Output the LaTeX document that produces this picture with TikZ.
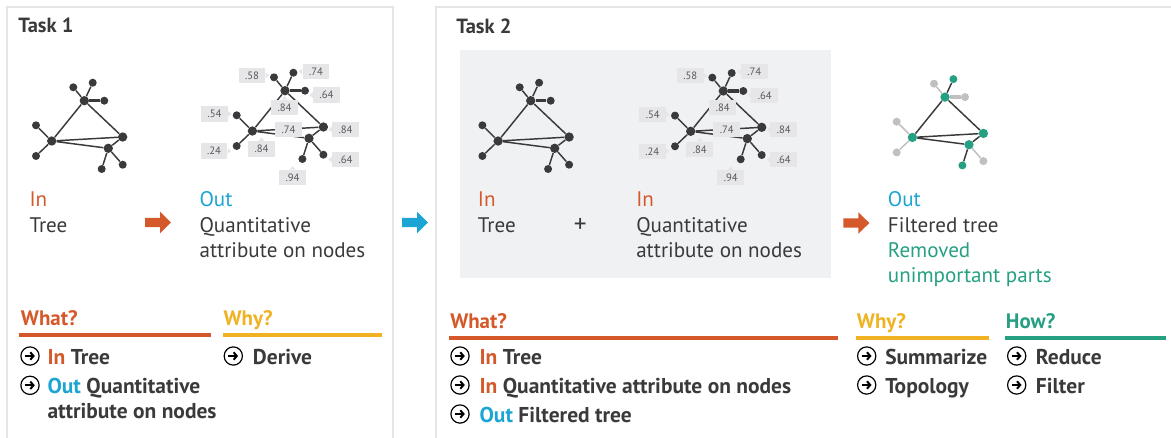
\documentclass[tikz,border=0pt]{standalone}
\usepackage{fontspec}
\setmainfont{PT Sans}
\usepackage{xcolor}
\usetikzlibrary{arrows.meta}

\definecolor{orangec}{RGB}{213,88,42}
\definecolor{bluec}{RGB}{28,165,212}
\definecolor{yellowc}{RGB}{240,178,35}
\definecolor{tealc}{RGB}{38,160,130}
\definecolor{inkc}{RGB}{58,58,60}
\definecolor{fadec}{RGB}{192,192,195}
\definecolor{framec}{RGB}{229,229,231}
\definecolor{boxc}{RGB}{240,241,243}
\definecolor{valc}{RGB}{230,230,232}

\tikzset{
  dot/.style={circle, fill=inkc, inner sep=0pt, minimum size=6pt},
  hub/.style={dot, minimum size=7pt},
  keep/.style={dot},
  drop/.style={dot},
  link/.style={draw=inkc, line width=1.1pt},
  droplink/.style={link},
  val/.style={fill=valc, text=inkc!85, inner sep=0pt, minimum width=20pt, minimum height=11.5pt,
    font=\fontsize{8}{9}\selectfont},
  frame/.style={draw=framec, line width=1.9pt},
  txt/.style={anchor=base west, inner sep=0pt, align=left, text=inkc, font=\fontsize{15.8}{18.75}\selectfont},
  head/.style={anchor=base west, inner sep=0pt, font=\fontsize{15.7}{18}\selectfont\bfseries},
  title/.style={anchor=base west, inner sep=0pt, text=inkc, font=\fontsize{15.4}{16}\selectfont\bfseries},
  item/.style={anchor=base west, inner sep=0pt, align=left, text=inkc, font=\fontsize{16.1}{18.75}\selectfont\bfseries},
  bar/.style={line width=3.4pt},
  goicon/.style={circle, draw=black, line width=0.9pt, inner sep=0pt, minimum size=13.7pt,
    path picture={\draw[line width=1.5pt, -{Straight Barb[length=2.4pt, width=5.6pt]}]
      ([xshift=-3.8pt]path picture bounding box.center) -- ([xshift=3.6pt]path picture bounding box.center);}},
}

% small pointers of the value boxes
\newcommand{\ptrright}[1]{\fill[valc] (#1.east) ++(0,-3) -- ++(3.5,3) -- ++(-3.5,3) -- cycle;}
\newcommand{\ptrleft}[1]{\fill[valc] (#1.west) ++(0,-3) -- ++(-3.5,3) -- ++(3.5,3) -- cycle;}
\newcommand{\ptrup}[1]{\fill[valc] (#1.north) ++(-3,0) -- ++(3,-3.5) -- ++(3,3.5) -- cycle;}

% tree of four hubs and seven leaves, #1 = name prefix
\newcommand{\treegraph}[1]{%
  \node[hub] (#1A) at (84.3,100.7) {};
  \node[hub] (#1B) at (51.7,141) {};
  \node[hub] (#1C) at (122.7,137) {};
  \node[hub] (#1D) at (108.3,148.3) {};
  \node[drop] (#1a1) at (73.3,87.3) {};
  \node[keep] (#1a2) at (92.7,82.7) {};
  \node[drop] (#1a3) at (104.3,100.7) {};
  \node[drop] (#1b1) at (36,125.3) {};
  \node[drop] (#1b2) at (36,156) {};
  \node[keep] (#1d1) at (101.7,169) {};
  \node[drop] (#1d2) at (122.7,164.7) {};
  \draw[link] (#1A) -- (#1B) (#1A) -- (#1C) (#1B) -- (#1C) (#1B) -- (#1D) (#1C) -- (#1D)
    (#1A) -- (#1a2) (#1D) -- (#1d1);
  \draw[droplink] (#1A) -- (#1a1) (#1B) -- (#1b1) (#1B) -- (#1b2) (#1D) -- (#1d2);
  \draw[droplink, line width=2.6pt] (#1A) -- (#1a3);
}

% attribute values next to the tree nodes
\newcommand{\treevalues}[1]{%
  \node[val] (#1v1) at (51.3,85.5) {.58};
  \node[val] (#1v2) at (115.3,81.5) {.74};
  \node[val] (#1v3) at (125.8,105) {.64};
  \node[val] (#1v4) at (83.8,117.5) {.84};
  \node[val] (#1v5) at (13.8,124) {.54};
  \node[val] (#1v6) at (87.8,139.5) {.74};
  \node[val] (#1v7) at (144.8,139.5) {.84};
  \node[val] (#1v8) at (13.3,161) {.24};
  \node[val] (#1v9) at (60.8,159) {.84};
  \node[val] (#1v10) at (144.8,169.5) {.64};
  \node[val] (#1v11) at (91.8,187.5) {.94};
  \ptrright{#1v1} \ptrleft{#1v2} \ptrleft{#1v3} \ptrup{#1v4}
  \ptrright{#1v5} \ptrleft{#1v7} \ptrright{#1v8} \ptrup{#1v9}
  \ptrleft{#1v10} \ptrup{#1v11}
}

% fat block arrow, centre x, centre y, colour
\newcommand{\fatarrow}[3]{%
  \fill[#3] (#1,#2) ++(-13,-4.6) -- ++(15,0) -- ++(0,-6.2) -- ++(11,10.8) -- ++(-11,10.8) -- ++(0,-6.2) -- ++(-15,0) -- cycle;
}

\begin{document}
\begin{tikzpicture}[x=0.75pt,y=0.75pt,yscale=-1,xscale=1]
\path[use as bounding box, clip] (0,0) rectangle (1171,437);

% panels
\draw[frame] (7,7) rectangle (393,470);
\draw[frame] (436,7) rectangle (1200,470);
\fill[boxc] (460,50) rectangle (831,278);

\node[title] (task1) at (18,32) {Task 1};
\node[title] (task2) at (456,33) {Task 2};

% task 1 trees
\treegraph{p}
\begin{scope}[shift={(200.7,-10)}]
  \treegraph{q}
  \treevalues{q}
\end{scope}

% task 2 trees
\begin{scope}[shift={(446.4,0)}]
  \treegraph{r}
\end{scope}
\begin{scope}[shift={(639,-9.7)}]
  \treegraph{s}
  \treevalues{s}
\end{scope}
\begin{scope}[shift={(860.7,-3.6)},
  hub/.style={dot, fill=tealc, minimum size=7pt},
  keep/.style={dot, fill=tealc},
  drop/.style={dot, fill=fadec},
  droplink/.style={draw=fadec, line width=1.1pt}]
  \treegraph{f}
\end{scope}

% task 1 labels
\node[txt, text=orangec] (in1) at (29.3,206.7) {In};
\node[txt] (tree1) at (29.3,232.7) {Tree};
\node[txt, text=bluec] (out1) at (199.3,206.7) {Out};
\node[txt] (quant1) at (199.3,257.7) {Quantitative\\attribute on nodes};
\fatarrow{158}{222.5}{orangec}
\fatarrow{415}{222.5}{bluec}

% task 2 labels
\node[txt, text=orangec] (in2) at (477.7,206.7) {In};
\node[txt] (tree2) at (477.7,232.3) {Tree};
\node[txt, font=\fontsize{19}{20}\selectfont] (plus) at (573.5,232.3) {+};
\node[txt, text=orangec] (in3) at (636,206.7) {In};
\node[txt] (quant2) at (636,257.7) {Quantitative\\attribute on nodes};
\fatarrow{856.3}{223}{orangec}
\node[txt, text=bluec] (out2) at (887.7,206.7) {Out};
\node[txt] (filt2) at (887.7,282.7) {Filtered tree\\\textcolor{tealc}{Removed}\\\textcolor{tealc}{unimportant parts}};

% task 1 what / why
\node[head, text=orangec] (what1) at (20.7,325) {What?};
\draw[bar, orangec] (19,335) -- (211,335);
\node[head, text=yellowc] (why1) at (223.3,325) {Why?};
\draw[bar, yellowc] (222.7,335) -- (381.7,335);
\node[goicon] (w1a) at (30,356) {};
\node[item] at (47.3,364) {\textcolor{orangec}{In} Tree};
\node[goicon] (w1b) at (30,385.3) {};
\node[item] at (47.3,418.3) {\textcolor{bluec}{Out} Quantitative\\attribute on nodes};
\node[goicon] (y1a) at (233.3,356) {};
\node[item] at (252.7,364) {Derive};

% task 2 what / why / how
\node[head, text=orangec] (what2) at (450,328.5) {What?};
\draw[bar, orangec] (449,338) -- (837.7,338);
\node[head, text=yellowc] (why2) at (856.7,328.5) {Why?};
\draw[bar, yellowc] (856,338) -- (989,338);
\node[head, text=tealc] (how2) at (1005.7,328.5) {How?};
\draw[bar, tealc] (1005,338) -- (1166,338);
\node[goicon] (w2a) at (460,356) {};
\node[item] at (479.3,364) {\textcolor{orangec}{In} Tree};
\node[goicon] (w2b) at (460,385) {};
\node[item] at (479.3,393) {\textcolor{orangec}{In} Quantitative attribute on nodes};
\node[goicon] (w2c) at (460,414) {};
\node[item] at (479.3,422) {\textcolor{bluec}{Out} Filtered tree};
\node[goicon] (y2a) at (866.7,356) {};
\node[item] at (885,364) {Summarize};
\node[goicon] (y2b) at (866.7,385) {};
\node[item] at (885,393) {Topology};
\node[goicon] (h2a) at (1016.7,356) {};
\node[item] at (1035.7,364) {Reduce};
\node[goicon] (h2b) at (1016.7,385) {};
\node[item] at (1035.7,393) {Filter};

\end{tikzpicture}
\end{document}
